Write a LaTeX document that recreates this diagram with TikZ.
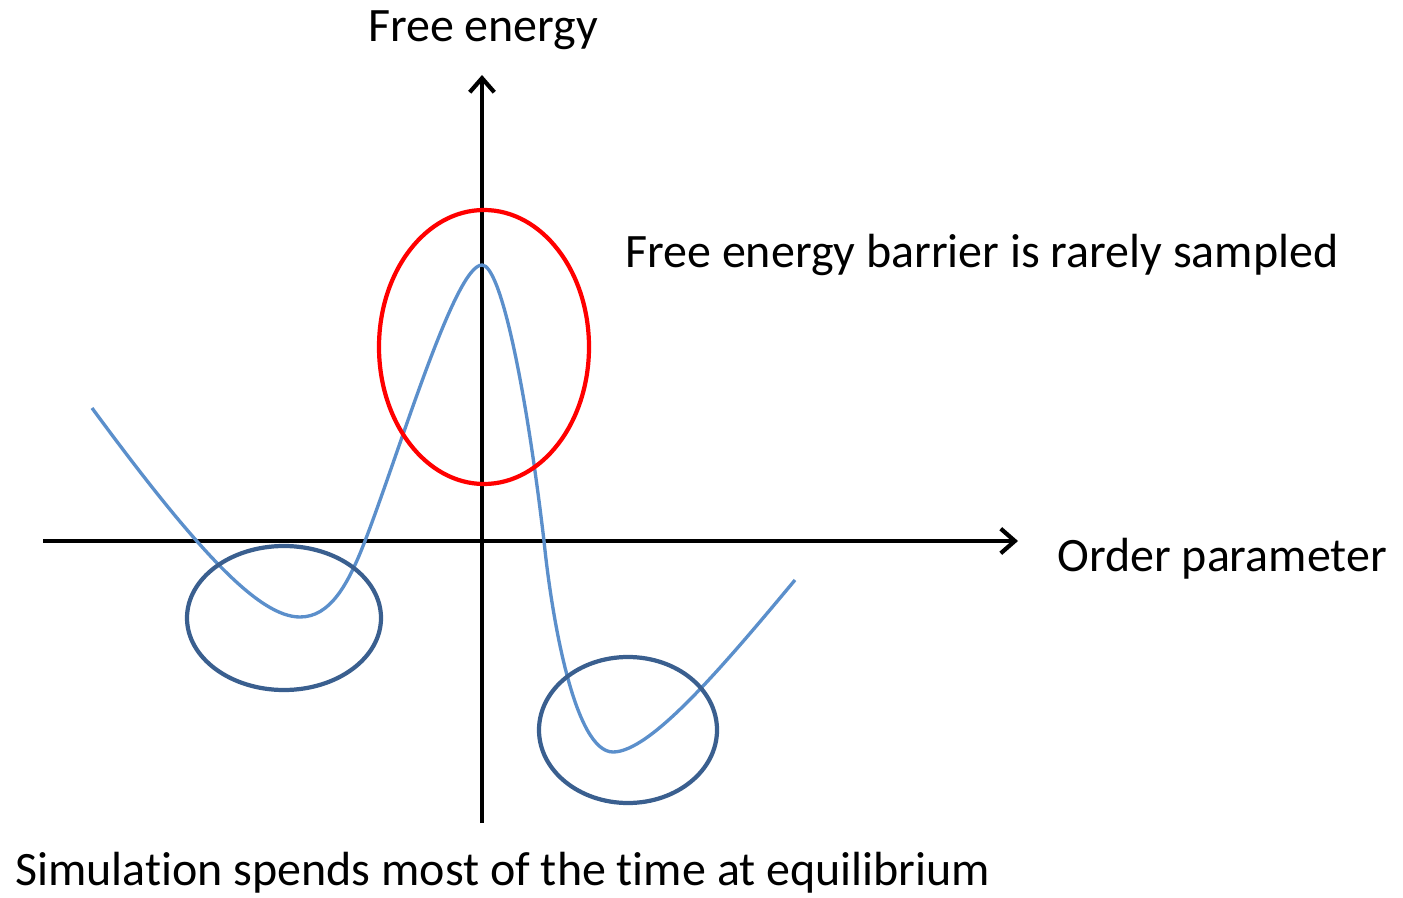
\documentclass[tikz,border=0pt]{standalone}
\usepackage{fontspec}
\setmainfont[Ligatures=NoCommon]{Carlito}
\usetikzlibrary{arrows.meta}
\definecolor{curveblue}{RGB}{91,143,203}
\definecolor{ringblue}{RGB}{58,95,143}
\tikzset{
  axis/.style={line width=2.4pt,-{Straight Barb[length=8pt,width=14pt]}},
  label/.style={font=\fontsize{27.3}{31}\selectfont,inner sep=0pt},
  ring/.style={line width=2.4pt}
}
\begin{document}
\begin{tikzpicture}[x=0.02cm,y=-0.02cm]
  \useasboundingbox (0,0) rectangle (1403,898);
  \coordinate (ybot) at (482,823);
  \coordinate (ytop) at (482,75);
  \coordinate (xleft) at (43,541);
  \coordinate (xright) at (1018,541);
  \draw[axis] (ybot)--(ytop);
  \draw[axis] (xleft)--(xright);
  \draw[curveblue,line width=1.9pt] (92,408) .. controls (200,555) and (260,617) .. (300,617)
    .. controls (330,617) and (348,585) .. (365,541)
    .. controls (400,450) and (455,265) .. (482,265)
    .. controls (500,265) and (525,380) .. (544,541)
    .. controls (552,620) and (575,752) .. (613,752)
    .. controls (650,752) and (720,670) .. (795,580);
  \draw[red,ring] (484,347) ellipse [x radius=105,y radius=137];
  \draw[ringblue,ring] (284,618) ellipse [x radius=97,y radius=72];
  \draw[ringblue,ring] (628,730) ellipse [x radius=89,y radius=73];
  \node[label] (yname) at (483,30) {Free energy};
  \node[label,anchor=west] (xname) at (1057,559) {Order parameter};
  \node[label,anchor=west] (barrier) at (625,255) {Free energy barrier is rarely sampled};
  \node[label,anchor=west] (equil) at (15,873) {Simulation spends most of the time at equilibrium};
\end{tikzpicture}
\end{document}
